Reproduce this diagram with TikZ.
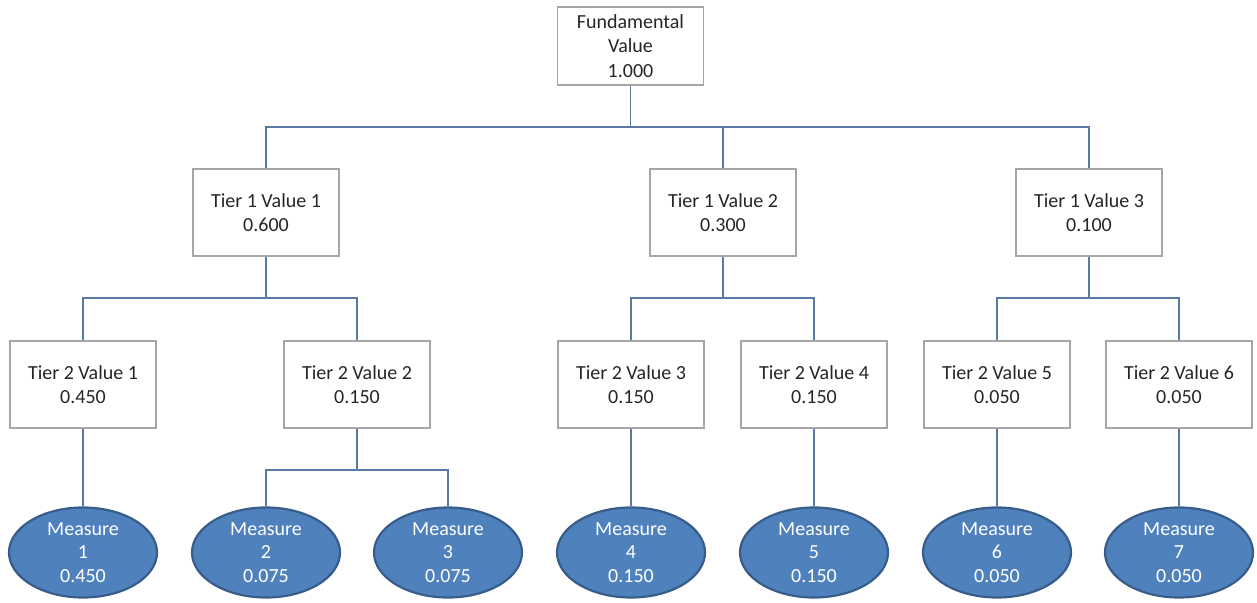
\documentclass[tikz,border=0pt]{standalone}
\usepackage{fontspec}
\setmainfont{Carlito}
\usepackage{tikz}
\usetikzlibrary{shapes.geometric}
\definecolor{txtgray}{HTML}{262626}
\definecolor{boxgray}{HTML}{A6A6A6}
\definecolor{linkblue}{HTML}{5A7AA6}
\definecolor{measfill}{HTML}{4F81BD}
\definecolor{measedge}{HTML}{385D8A}
\tikzset{every node/.append style={font=\fontsize{20}{24.5}\selectfont, text=txtgray}}
\tikzset{valbox/.style={draw=boxgray, line width=1.3pt, fill=white, align=center,
    minimum width=146pt, minimum height=87pt, inner sep=0pt}}
\tikzset{measure/.style={ellipse, draw=measedge, line width=2.2pt, fill=measfill, text=white,
    align=center, minimum width=148pt, minimum height=90pt, inner sep=0pt,
    font=\fontsize{20}{23.5}\selectfont}}
\tikzset{link/.style={draw=linkblue, line width=1.6pt}}

\begin{document}
\begin{tikzpicture}[x=1pt, y=-1pt]
    \useasboundingbox (0,0) rectangle (1257,602);
    % value tree
    \node[valbox, minimum height=78pt] (fund) at (630.5,46) {Fundamental\\Value\\1.000};
    \node[valbox] (t1a) at (266,212.5) {Tier 1 Value 1\\0.600};
    \node[valbox] (t1b) at (723,212.5) {Tier 1 Value 2\\0.300};
    \node[valbox] (t1c) at (1089,212.5) {Tier 1 Value 3\\0.100};
    \foreach \i/\x/\v in {1/83/0.450, 2/357/0.150, 3/631/0.150, 4/814/0.150, 5/997/0.050, 6/1179/0.050}
        \node[valbox] (t2v\i) at (\x,384.5) {Tier 2 Value \i\\\v};
    \foreach \i/\x/\v in {1/83/0.450, 2/266/0.075, 3/448/0.075, 4/631/0.150, 5/814/0.150, 6/997/0.050, 7/1179/0.050}
        \node[measure] (m\i) at (\x,552.5) {Measure\\\i\\\v};
    % connectors
    \foreach \c in {t1a, t1b, t1c}
        \draw[link] (fund.south) -- (fund.south |- 0,127) -| (\c.north);
    \foreach \p/\c in {t1a/t2v1, t1a/t2v2, t1b/t2v3, t1b/t2v4, t1c/t2v5, t1c/t2v6}
        \draw[link] (\p.south) -- (\p.south |- 0,298) -| (\c.north);
    \foreach \c in {m2, m3}
        \draw[link] (t2v2.south) -- (t2v2.south |- 0,470) -| (\c.north);
    \foreach \p/\c in {t2v1/m1, t2v3/m4, t2v4/m5, t2v5/m6, t2v6/m7}
        \draw[link] (\p.south) -- (\c.north);
\end{tikzpicture}
\end{document}
